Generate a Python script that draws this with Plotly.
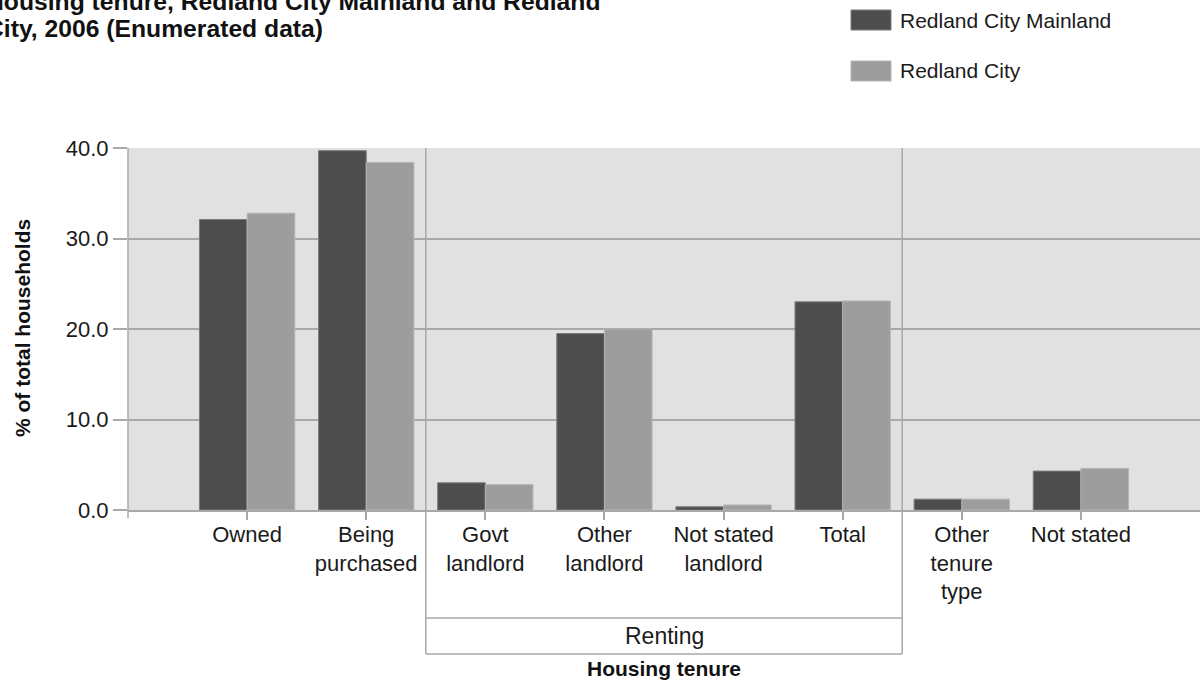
import plotly.graph_objects as go

categories = ["Owned", "Being purchased", "Govt landlord", "Other landlord",
              "Not stated landlord", "Total", "Other tenure type", "Not stated"]
tick_labels = ["Owned", "Being<br>purchased", "Govt<br>landlord", "Other<br>landlord",
               "Not stated<br>landlord", "Total", "Other<br>tenure<br>type", "Not stated"]
mainland = [32.1, 39.7, 3.0, 19.5, 0.35, 23.0, 1.2, 4.3]
redland = [32.8, 38.4, 2.8, 20.0, 0.55, 23.1, 1.2, 4.6]
series_names = ["Redland City Mainland", "Redland City"]
y_ticks = [0, 10, 20, 30, 40]
y_tick_text = ["0.0", "10.0", "20.0", "30.0", "40.0"]
title_lines = ["Housing tenure, Redland City Mainland and Redland",
               "City, 2006 (Enumerated data)"]

W, H = 1200, 684
L, R, T, B = 128, 0, 148, 174
PW, PH = W - L - R, H - T - B


def px(xp):
    return (xp - L) / PW


def py(yp):
    return (H - B - yp) / PH


DARK = "#4d4d4d"
LIGHT = "#9d9d9d"
GRID = "#a8a8a8"
FONT = "Liberation Sans, Arial, sans-serif"
TXT = "#1a1a1a"

fig = go.Figure()
fig.add_trace(go.Bar(x=categories, y=mainland, name=series_names[0],
                     marker=dict(color=DARK, line=dict(color="#7a7a7a", width=1)),
                     showlegend=False))
fig.add_trace(go.Bar(x=categories, y=redland, name=series_names[1],
                     marker=dict(color=LIGHT, line=dict(color="#b5b5b5", width=1)),
                     showlegend=False))

shapes = []
line_style = dict(color=GRID, width=1.5)
shapes.append(dict(type="line", xref="paper", yref="paper", x0=0, x1=0,
                   y0=py(518), y1=1, line=line_style))
for xv in (1.5, 5.5):
    shapes.append(dict(type="line", xref="x", yref="paper", x0=xv, x1=xv,
                       y0=py(654), y1=1, line=line_style))
for yv in (618, 654):
    shapes.append(dict(type="line", xref="x", yref="paper", x0=1.5, x1=5.5,
                       y0=py(yv), y1=py(yv), line=line_style))
shapes.append(dict(type="rect", xref="paper", yref="paper", x0=px(851), x1=px(891),
                   y0=py(30), y1=py(10), fillcolor=DARK, line=dict(color="#7a7a7a", width=1)))
shapes.append(dict(type="rect", xref="paper", yref="paper", x0=px(851), x1=px(891),
                   y0=py(81), y1=py(61), fillcolor=LIGHT, line=dict(color="#b5b5b5", width=1)))

annotations = [
    dict(text="<b>" + title_lines[0] + "</b>", xref="paper", yref="paper",
         x=px(-16), y=py(1), xanchor="left", yanchor="middle", align="left",
         showarrow=False, font=dict(size=24.7, color="#111111", family=FONT)),
    dict(text="<b>" + title_lines[1] + "</b>", xref="paper", yref="paper",
         x=px(-16), y=py(29), xanchor="left", yanchor="middle", align="left",
         showarrow=False, font=dict(size=24.7, color="#111111", family=FONT)),
    dict(text=series_names[0], xref="paper", yref="paper", x=px(898), y=py(20),
         xanchor="left", yanchor="middle", showarrow=False,
         font=dict(size=21, color=TXT, family=FONT)),
    dict(text=series_names[1], xref="paper", yref="paper", x=px(898), y=py(71),
         xanchor="left", yanchor="middle", showarrow=False,
         font=dict(size=21, color=TXT, family=FONT)),
    dict(text="Renting", xref="x", yref="paper", x=3.5, y=py(636), xanchor="center",
         yanchor="middle", showarrow=False, font=dict(size=23, color=TXT, family=FONT)),
    dict(text="<b>Housing tenure</b>", xref="x", yref="paper", x=3.5, y=py(668),
         xanchor="center", yanchor="middle", showarrow=False,
         font=dict(size=21, color="#111111", family=FONT)),
    dict(text="<b>% of total households</b>", xref="paper", yref="paper", x=px(22), y=py(328),
         xanchor="center", yanchor="middle", textangle=-90, showarrow=False,
         font=dict(size=21, color="#111111", family=FONT)),
]

fig.update_layout(
    width=W, height=H,
    margin=dict(l=L, r=R, t=T, b=B, pad=0),
    paper_bgcolor="white", plot_bgcolor="#e1e1e1",
    barmode="group", bargap=0.2, bargroupgap=0,
    font=dict(family=FONT, size=22, color=TXT),
    shapes=shapes, annotations=annotations, showlegend=False,
)
fig.update_xaxes(
    type="category", categoryorder="array", categoryarray=categories,
    range=[-1, 8], tickmode="array", tickvals=categories, ticktext=tick_labels,
    ticks="outside", ticklen=8, tickcolor=GRID, tickwidth=1.5, ticklabelstandoff=-4,
    showline=True, linecolor=GRID, linewidth=1.5, showgrid=False,
    tickfont=dict(size=22, family=FONT, color=TXT),
)
fig.update_yaxes(
    range=[0, 40], tickmode="array", tickvals=y_ticks, ticktext=y_tick_text,
    ticks="outside", ticklen=14, tickcolor=GRID, tickwidth=1.5,
    showgrid=True, gridcolor=GRID, gridwidth=1.5, zeroline=False, showline=False,
    tickfont=dict(size=22, family=FONT, color=TXT),
)

fig.write_html("out.html", config={"displayModeBar": False},
               post_script="document.body.style.margin='0';document.body.style.overflow='hidden';")
